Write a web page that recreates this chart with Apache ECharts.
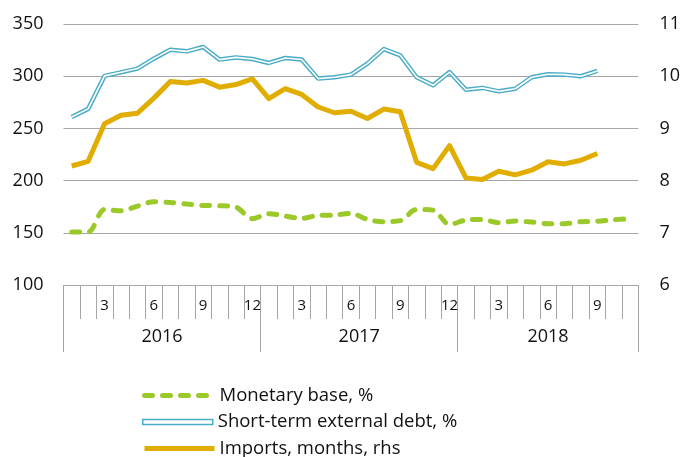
<!DOCTYPE html>
<html>
<head>
<meta charset="utf-8">
<script src="https://cdn.jsdelivr.net/npm/echarts@6/dist/echarts.min.js"></script>
<style>html,body{margin:0;padding:0;background:#fff}#c{width:683px;height:457px}</style>
</head>
<body>
<div id="c"></div>
<script>
// Months Jan 2016 .. Nov 2018
const months = ['1','2','3','4','5','6','7','8','9','10','11','12',
                '1','2','3','4','5','6','7','8','9','10','11','12',
                '1','2','3','4','5','6','7','8','9','10','11'];
const monthTickLabels = ['3','6','9','12'];
const years = ['2016','2017','2018'];
const yearLabelIndex = [5, 17, 29];
const leftTicks = [100, 150, 200, 250, 300, 350];
const rightTicks = [6, 7, 8, 9, 10, 11];

const monetaryBase = [150.7,150.7,172.4,171.1,175.6,179.8,179.1,177.5,176.2,176,174.6,163.5,
                      168.3,166,163.8,166.7,167,168.6,162.8,160.6,161.6,172.4,171.7,158,
                      162.2,162.8,159.7,161.2,160.3,158.7,158.7,160.6,161.1,162.5,163.5];
const shortTermDebt = [261,268.7,300.3,303.7,307.3,316.8,325.4,323.8,328,315.9,318,316.5,
                       312.7,317.5,316,297.7,299,301.5,312,326,320,299,291.3,304,
                       287,288.8,285.5,288,299,301.8,301.5,300,305];
const importsMonths = [8.28,8.37,9.09,9.25,9.29,9.58,9.90,9.87,9.92,9.79,9.84,9.95,
                       9.57,9.76,9.65,9.41,9.30,9.33,9.19,9.37,9.32,8.35,8.23,8.67,
                       8.05,8.02,8.18,8.11,8.20,8.36,8.32,8.39,8.52];

const names = ['Monetary base, %', 'Short-term external debt, %', 'Imports, months, rhs'];
const cGreen = '#9cc92a', cBlue = '#4bacc6', cGold = '#e0ad00';
const gridColor = '#a6a6a6';
const font = 'Open Sans';
const txt = '#111';

const chart = echarts.init(document.getElementById('c'), null, {renderer: 'canvas'});
const band = (639 - 63.5) / months.length;

const legendItems = [
  {name: names[0], lineStyle: {width: 5, type: [8, 10], cap: 'round', color: cGreen},
   itemStyle: {color: 'rgba(0,0,0,0)', borderWidth: 0}},
  {name: names[1], icon: 'rect', itemStyle: {color: '#fff', borderColor: cBlue, borderWidth: 1.5}},
  {name: names[2], lineStyle: {width: 5, color: cGold}, itemStyle: {color: cGold, borderWidth: 0}}
];
const legendTops = [386, 412.5, 439];
const legends = legendItems.map((it, k) => ({
  orient: 'horizontal', left: 142, top: legendTops[k], padding: 0,
  itemWidth: 70, itemHeight: 5,
  textStyle: {fontFamily: font, fontSize: 18.5, color: txt},
  selectedMode: false,
  data: [it]
}));

chart.setOption({
  animation: false,
  textStyle: {fontFamily: font},
  grid: {left: 63.5, right: 44, top: 24, bottom: 172, containLabel: false},
  legend: legends,
  xAxis: [
    {
      type: 'category', data: months, position: 'bottom', boundaryGap: true,
      axisLine: {show: true, lineStyle: {color: gridColor, width: 1}},
      axisTick: {show: true, interval: 0, length: 34, lineStyle: {color: gridColor, width: 1}},
      axisLabel: {
        interval: 0, margin: 13, fontSize: 15, color: txt, fontFamily: font,
        formatter: v => monthTickLabels.indexOf(v) >= 0 ? v : ''
      },
      splitLine: {show: false}
    },
    {
      type: 'category', data: months, position: 'bottom', boundaryGap: true,
      axisLine: {show: false},
      axisTick: {show: true, length: 67, lineStyle: {color: gridColor, width: 1},
                 interval: (i) => i === 0 || i === 12 || i === 24},
      axisLabel: {
        interval: (i) => yearLabelIndex.indexOf(i) >= 0,
        margin: 43, fontSize: 18, color: txt, fontFamily: font,
        formatter: (v, i) => {
          const k = yearLabelIndex.indexOf(i);
          if (k < 0) return '';
          return k < 2 ? '{s|' + years[k] + '}' : '{n|' + years[k] + '}';
        },
        rich: {
          s: {fontSize: 18, fontFamily: font, color: txt, padding: [0, 0, 0, band]},
          n: {fontSize: 18, fontFamily: font, color: txt}
        }
      },
      splitLine: {show: false}
    }
  ],
  yAxis: [
    {
      type: 'value', min: leftTicks[0], max: leftTicks[leftTicks.length - 1], interval: 50,
      axisLine: {show: false}, axisTick: {show: false},
      axisLabel: {margin: 20, fontSize: 18, color: txt, fontFamily: font},
      splitLine: {show: true, lineStyle: {color: gridColor, width: 1}}
    },
    {
      type: 'value', min: rightTicks[0], max: rightTicks[rightTicks.length - 1], interval: 1,
      position: 'right',
      axisLine: {show: false}, axisTick: {show: false},
      axisLabel: {margin: 21, fontSize: 18, color: txt, fontFamily: font},
      splitLine: {show: false}
    }
  ],
  series: [
    {
      name: names[0], type: 'line', data: monetaryBase, xAxisIndex: 0, yAxisIndex: 0,
      symbol: 'none', smooth: 0.3,
      lineStyle: {color: cGreen, width: 5, type: [8, 10], cap: 'round'},
      itemStyle: {color: cGreen}
    },
    {
      name: names[1], type: 'line', data: shortTermDebt, xAxisIndex: 0, yAxisIndex: 0,
      symbol: 'none',
      lineStyle: {color: cBlue, width: 4.5, join: 'round'},
      itemStyle: {color: cBlue}
    },
    {
      name: 'debt-core', type: 'line', data: shortTermDebt, xAxisIndex: 0, yAxisIndex: 0,
      symbol: 'none',
      lineStyle: {color: '#fff', width: 1.6, join: 'round'},
      itemStyle: {color: '#fff'}
    },
    {
      name: names[2], type: 'line', data: importsMonths, xAxisIndex: 0, yAxisIndex: 1,
      symbol: 'none',
      lineStyle: {color: cGold, width: 5, join: 'round'},
      itemStyle: {color: cGold}
    }
  ]
});
</script>
</body>
</html>
